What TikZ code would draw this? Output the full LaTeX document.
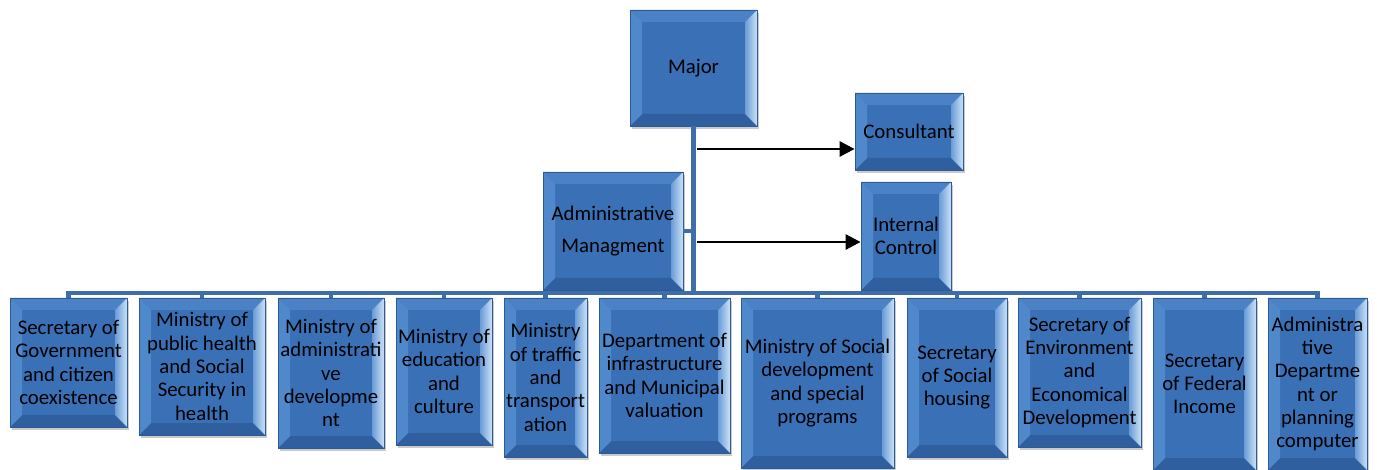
\documentclass[tikz,border=0pt]{standalone}
\usepackage{fontspec}
\setmainfont{Carlito}
\usetikzlibrary{calc,arrows.meta,shadows}
\definecolor{boxface}{HTML}{3A70B5}
\definecolor{boxedge}{HTML}{2B5A96}
\definecolor{bevtopc}{HTML}{4A82C5}
\definecolor{bevleftc}{HTML}{5089CB}
\definecolor{bevbotc}{HTML}{2F5F9F}
\definecolor{bevrA}{HTML}{6A9CD6}
\definecolor{bevrB}{HTML}{CBE1F7}
\definecolor{connc}{HTML}{3F6DAA}
\newcommand{\bw}{12pt}
\newcommand{\boxfont}{\fontsize{20.8}{23.3}\selectfont}
\tikzset{
  bevelbox/.style={draw=boxedge, line width=0.8pt, fill=boxface, inner sep=0pt,
    align=center, font=\boxfont, text=black,
    drop shadow={shadow xshift=2pt, shadow yshift=-3pt, opacity=0.35, fill=black!60},
    path picture={
      \path (path picture bounding box.north west) coordinate (pA)
            (path picture bounding box.north east) coordinate (pB)
            (path picture bounding box.south east) coordinate (pC)
            (path picture bounding box.south west) coordinate (pD);
      \path ($(pA)+(\bw,-\bw)$) coordinate (qA)
            ($(pB)+(-\bw,-\bw)$) coordinate (qB)
            ($(pC)+(-\bw,\bw)$) coordinate (qC)
            ($(pD)+(\bw,\bw)$) coordinate (qD);
      \fill[bevtopc] (pA)--(pB)--(qB)--(qA)--cycle;
      \fill[bevbotc] (pC)--(pD)--(qD)--(qC)--cycle;
      \fill[bevleftc] (pD)--(pA)--(qA)--(qD)--cycle;
      \shade[left color=bevrA, right color=bevrB] (pB)--(pC)--(qC)--(qB)--cycle;
    }},
  conn/.style={draw=connc, line width=4.5pt},
  arr/.style={draw=black, line width=2.8pt, -{Triangle[length=15pt,width=15pt]}}
}
\begin{document}
\begin{tikzpicture}[x=1pt,y=-1pt]
\useasboundingbox (0,0) rectangle (1377,470);
% nodes
\node[bevelbox, minimum width=127pt, minimum height=116pt] (major) at (693.5,68) {Major};
\node[bevelbox, minimum width=108pt, minimum height=77pt] (cons) at (909,131.5) {Consultant};
\node[bevelbox, minimum width=90pt, minimum height=108pt] (ic) at (906,236) {Internal\\Control};
\node[bevelbox, minimum width=140pt, minimum height=118pt] (admin) at (613,231) {Administrative\\[9pt]Managment};
\node[bevelbox, minimum width=117pt, minimum height=129pt] (b1) at (68.5,362.5) {Secretary of\\Government\\and citizen\\coexistence};
\node[bevelbox, minimum width=126pt, minimum height=137pt] (b2) at (202,366.5) {Ministry of\\public health\\and Social\\Security in\\health};
\node[bevelbox, minimum width=106pt, minimum height=150pt] (b3) at (331,373) {Ministry of\\administrati\\ve\\developme\\nt};
\node[bevelbox, minimum width=96pt, minimum height=147pt] (b4) at (444,371.5) {Ministry of\\education\\and\\culture};
\node[bevelbox, minimum width=83pt, minimum height=159pt] (b5) at (545.5,377.5) {Ministry\\of traffic\\and\\transport\\ation};
\node[bevelbox, minimum width=131pt, minimum height=155pt] (b6) at (664.5,375.5) {Department of\\infrastructure\\and Municipal\\valuation};
\node[bevelbox, minimum width=153pt, minimum height=170pt] (b7) at (817.5,383) {Ministry of Social\\development\\and special\\programs};
\node[bevelbox, minimum width=100pt, minimum height=159pt] (b8) at (957,377.5) {Secretary\\of Social\\housing};
\node[bevelbox, minimum width=123pt, minimum height=149pt] (b9) at (1079.5,372.5) {Secretary of\\Environment\\and\\Economical\\Development};
\node[bevelbox, minimum width=103pt, minimum height=172pt] (b10) at (1204.5,384) {Secretary\\of Federal\\Income};
\node[bevelbox, minimum width=99pt, minimum height=172pt] (b11) at (1317.5,384) {Administra\\tive\\Departme\\nt or\\planning\\computer};
% connectors
\coordinate (bus) at (700,293);
\draw[conn] (major.south) -- (major.south |- bus);
\draw[conn] (admin.east) -- (admin.east -| major.south);
\draw[conn] (b1.north) |- (b11.north |- bus) -- (b11.north);
\foreach \b in {b2,b3,b4,b5,b6,b7,b8,b9,b10}{
  \draw[conn] (\b.north) -- (\b.north |- bus);
}
\coordinate (c1) at (697,149);
\coordinate (c2) at (697,242);
\draw[arr] (c1) -- (c1 -| cons.west);
\draw[arr] (c2) -- (c2 -| ic.west);
\end{tikzpicture}
\end{document}
